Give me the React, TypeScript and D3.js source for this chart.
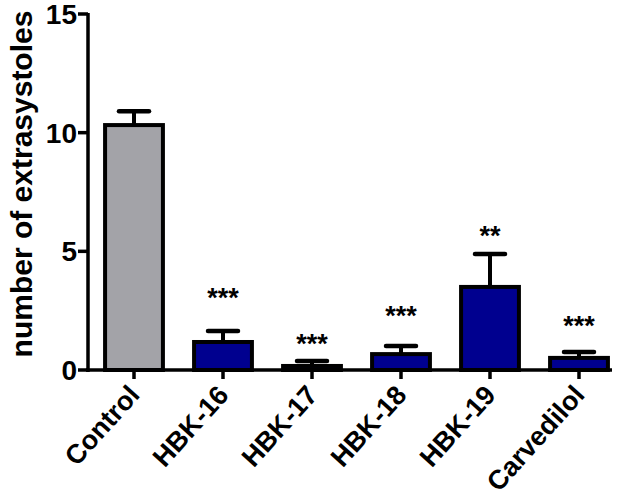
import React from 'react'
import { scaleBand, scaleLinear } from 'd3'

const groups = ['Control', 'HBK-16', 'HBK-17', 'HBK-18', 'HBK-19', 'Carvedilol']
const means = [10.32, 1.18, 0.17, 0.67, 3.5, 0.51]
const sems = [0.58, 0.46, 0.21, 0.34, 1.39, 0.25]
const sigLabels = ['', '***', '***', '***', '**', '***']
// height (in data units) where the significance stars sit
const sigLevels = [0, 3.16, 1.22, 2.4, 5.77, 1.98]
const yTicks = [0, 5, 10, 15]

const W = 630, H = 499
const margin = { top: 14, left: 88, bottom: 129, right: 18 }

export default function App() {
  const y = scaleLinear().domain([0, 15]).range([H - margin.bottom, margin.top])
  const x = scaleBand()
    .domain(groups)
    .range([margin.left + 1.5, margin.left + 1.5 + 89 * 6])
    .paddingInner(0.35)
    .paddingOuter(0.175)

  const font = 'Liberation Sans, Arial, Helvetica, sans-serif'
  const y0 = y(0)

  return (
    <svg width={W} height={H} style={{ position: 'absolute', left: 0, top: 0, background: '#fff' }}
      fontFamily={font}>
      {/* bars */}
      {groups.map((g, i) => {
        const bx = x(g)!
        const cx = bx + x.bandwidth() / 2
        return (
          <g key={g}>
            <line x1={cx} x2={cx} y1={y(means[i])} y2={y(means[i] + sems[i])}
              stroke="#000" strokeWidth={4} />
            <line x1={cx - 15} x2={cx + 15} y1={y(means[i] + sems[i])} y2={y(means[i] + sems[i])}
              stroke="#000" strokeWidth={4.5} strokeLinecap="round" />
            <rect x={bx} y={y(means[i])} width={x.bandwidth()} height={y0 - y(means[i])}
              fill={i === 0 ? '#a3a3a8' : '#00008f'} stroke="#000" strokeWidth={4} />
            {sigLabels[i] && (
              <text x={cx} y={y(sigLevels[i]) + 12} textAnchor="middle" fontSize={27}
                fontWeight="bold" fill="#000">{sigLabels[i]}</text>
            )}
          </g>
        )
      })}

      {/* y axis */}
      <line x1={margin.left} x2={margin.left} y1={y(15) - 1} y2={y0 + 2} stroke="#000" strokeWidth={3.5} />
      {yTicks.map(t => (
        <g key={t}>
          <line x1={margin.left - 10} x2={margin.left} y1={y(t)} y2={y(t)} stroke="#000" strokeWidth={3.5} />
          <text x={margin.left - 11} y={y(t) + 10} textAnchor="end" fontSize={28} fontWeight="bold">{t}</text>
        </g>
      ))}
      <text transform={`translate(32,${(margin.top + y0) / 2 - 8}) rotate(-90)`} textAnchor="middle"
        fontSize={30} fontWeight="bold">number of extrasystoles</text>

      {/* x axis */}
      <line x1={margin.left - 2} x2={W - margin.right} y1={y0} y2={y0} stroke="#000" strokeWidth={3.5} />
      {groups.map(g => {
        const cx = x(g)! + x.bandwidth() / 2
        return (
          <g key={g}>
            <line x1={cx} x2={cx} y1={y0} y2={y0 + 9} stroke="#000" strokeWidth={3.5} />
            <text transform={`translate(${cx + 7},${y0 + 26}) rotate(-48)`} textAnchor="end"
              fontSize={27} fontWeight="bold">{g}</text>
          </g>
        )
      })}
    </svg>
  )
}
